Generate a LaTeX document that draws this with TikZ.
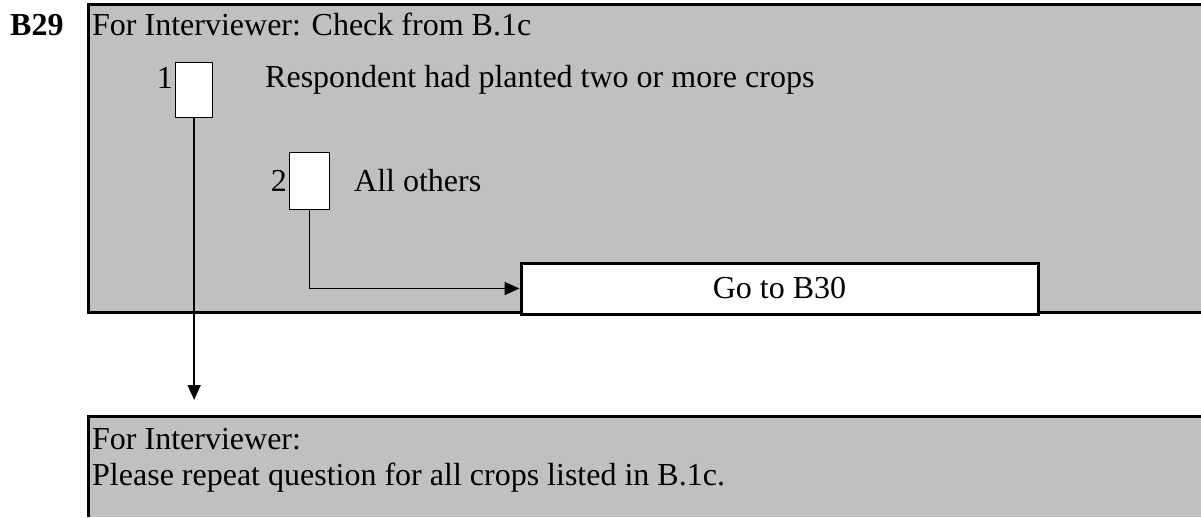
\documentclass[tikz,border=0pt]{standalone}
\usepackage{fontspec}
\setmainfont{Liberation Serif}
\usetikzlibrary{arrows.meta}
\definecolor{panelgray}{HTML}{C0C0C0}
\tikzset{
  txt/.style={inner sep=0pt, anchor=base west, font=\fontsize{32}{38}\selectfont},
  chk/.style={draw=black, fill=white, line width=1.3pt},
  border/.style={line width=3pt},
  flow/.style={line width=1.6pt, -{Triangle[length=15pt,width=13pt]}},
}
\begin{document}
\begin{tikzpicture}[x=1pt,y=-1pt]
\useasboundingbox (0,0) rectangle (1201,517);
% top panel
\fill[panelgray] (88,4) rectangle (1201,313);
\draw[border] (88.5,4.5) -- (1201,4.5);
\draw[border] (88.5,3) -- (88.5,314);
\draw[border] (87,312.5) -- (1201,312.5);
% bottom panel
\fill[panelgray] (88,416) rectangle (1201,517);
\draw[border] (87,416.5) -- (1201,416.5);
\draw[border] (88.5,415) -- (88.5,517);
% texts
\node[txt, font=\fontsize{32}{38}\selectfont\bfseries] (b29) at (10,35) {B29};
\node[txt] (hdr) at (92,35) {For Interviewer: Check from B.1c};
\node[txt] (resp) at (265,87) {Respondent had planted two or more crops};
\node[txt] (oth) at (354,191) {All others};
\node[txt, anchor=base east] (l1) at (173,88) {1};
\node[txt, anchor=base east] (l2) at (287,191) {2};
\node[txt] (hdr2) at (92,449) {For Interviewer:};
\node[txt] (rep) at (92,485) {Please repeat question for all crops listed in B.1c.};
% boxes
\node[chk, minimum width=37pt, minimum height=55pt, inner sep=0pt, anchor=north west] (c1) at (175,62) {};
\node[chk, minimum width=40pt, minimum height=57pt, inner sep=0pt, anchor=north west] (c2) at (289,152) {};
\node[draw=black, fill=white, line width=3pt, minimum width=517pt, minimum height=51pt, inner sep=0pt, anchor=north west, font=\fontsize{32}{38}\selectfont] (go) at (519.5,261.5) {Go to B30};
% connectors
\coordinate (a1) at (c1.south |- 0,400);
\draw[flow] (c1.south) -- (a1);
\draw[flow] (c2.south) |- (go.west);
\end{tikzpicture}
\end{document}
